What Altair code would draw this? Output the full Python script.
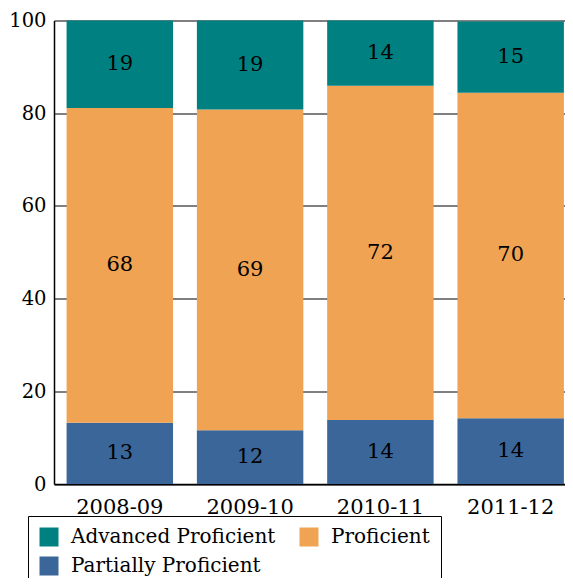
import altair as alt
import pandas as pd

years = ["2008-09", "2009-10", "2010-11", "2011-12"]
partially = [13.2, 11.6, 13.8, 14.2]
proficient = [67.9, 69.2, 72.1, 70.2]
advanced = [18.9, 19.2, 14.1, 15.4]
levels = ["Advanced Proficient", "Proficient", "Partially Proficient"]
colors = ["#008080", "#EFA353", "#3A6699"]

rows = []
for i, y in enumerate(years):
    rows.append({"year": y, "level": "Partially Proficient", "rank": 0, "value": partially[i]})
    rows.append({"year": y, "level": "Proficient", "rank": 1, "value": proficient[i]})
    rows.append({"year": y, "level": "Advanced Proficient", "rank": 2, "value": advanced[i]})
df = pd.DataFrame(rows)

FONT = "DejaVu Serif"

base = alt.Chart(df).transform_stack(
    stack="value", groupby=["year"], sort=[{"field": "rank", "order": "ascending"}], as_=["y0", "y1"]
).transform_calculate(mid="(datum.y0 + datum.y1) / 2")

x = alt.X("year:N", sort=years, title=None,
          scale=alt.Scale(paddingInner=0.183, paddingOuter=0.0525, align=0.92),
          axis=alt.Axis(labelAngle=0, labelFont=FONT, labelFontSize=21, labelColor="black",
                        labelPadding=12, ticks=False, domainColor="black", domainWidth=1.5,
                        grid=False))

bars = base.mark_bar().encode(
    x=x,
    y=alt.Y("y0:Q", title=None, scale=alt.Scale(domain=[0, 100], nice=False),
            axis=alt.Axis(values=[0, 20, 40, 60, 80, 100], labelFont=FONT, labelFontSize=19.5,
                          labelColor="black", labelPadding=8, ticks=False, domainColor="black",
                          domainWidth=1.5, grid=True, gridColor="black", gridWidth=1,
                          gridOpacity=1)),
    y2="y1:Q",
    color=alt.Color("level:N", sort=levels, scale=alt.Scale(domain=levels, range=colors), title=None,
                    legend=alt.Legend(
                        orient="none", legendX=-26, legendY=495.5, columns=2,
                        direction="horizontal", values=levels,
                        gridAlign="all", columnPadding=23, rowPadding=9,
                        symbolType="square", symbolSize=361, symbolStrokeWidth=0,
                        labelFont=FONT, labelFontSize=20, labelColor="black",
                        labelOffset=12, padding=11, strokeColor="black",
                        fillColor="white", labelLimit=400)),
)

labels = base.mark_text(font=FONT, fontSize=21, color="black", baseline="middle").encode(
    x=alt.X("year:N", sort=years),
    y="mid:Q",
    text=alt.Text("value:Q", format=".0f"),
)

chart = alt.layer(bars, labels).properties(
    width=511, height=463.5,
    autosize=alt.AutoSizeParams(type="none"),
    padding={"left": 46, "top": 12.5, "right": 0, "bottom": 94},
).configure_view(stroke=None)

chart.save("out.html", embed_options={"renderer": "svg", "actions": False})
